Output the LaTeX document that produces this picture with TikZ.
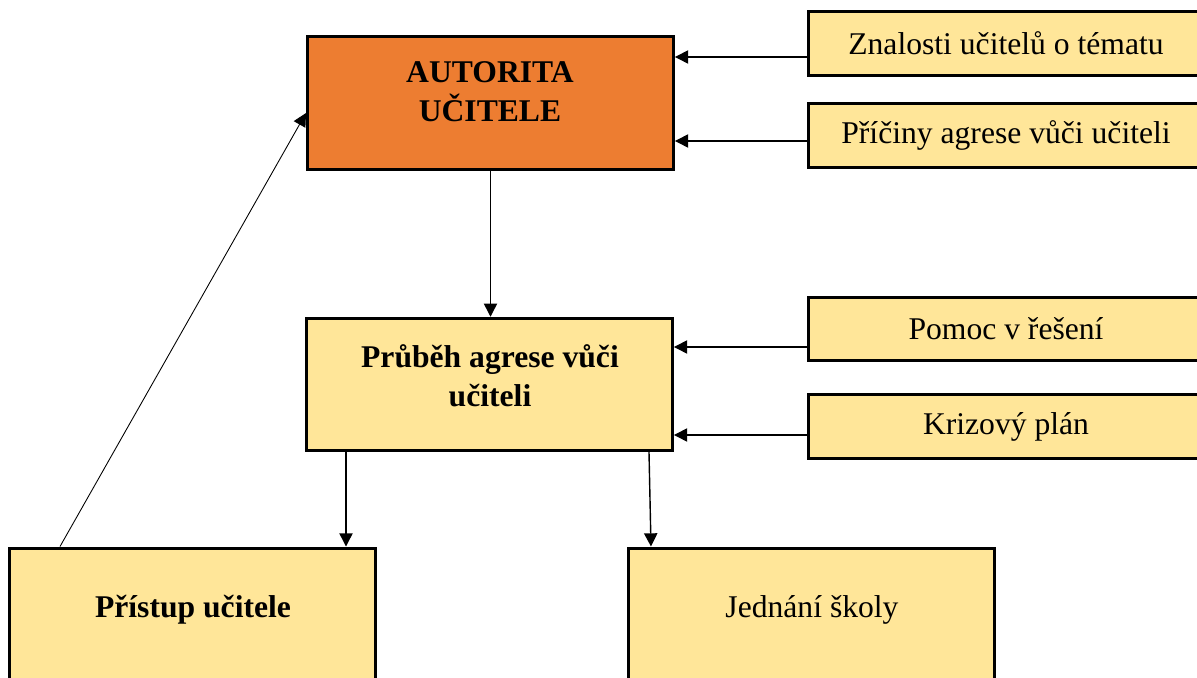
\documentclass[tikz,border=0pt]{standalone}
\usepackage{fontspec}
\setmainfont{Liberation Serif}
\usepackage{tikz}
\usetikzlibrary{shapes, positioning, arrows.meta, calc}
\definecolor{boxorange}{HTML}{ED7D31}
\definecolor{boxyellow}{HTML}{FFE699}
\tikzstyle{box}=[rectangle, draw, line width=1.7pt, fill=boxyellow, inner sep=0pt]
\tikzstyle{bigbox}=[box, minimum width=7.32cm, minimum height=2.65cm]
\tikzstyle{sidebox}=[box, minimum width=7.92cm, minimum height=1.27cm,
  font=\fontsize{18}{22}\selectfont]
\tikzstyle{lowbox}=[box, minimum width=7.32cm, minimum height=3.44cm]
\tikzstyle{boxtext}=[align=center, font=\fontsize{18}{22}\selectfont]
\tikzstyle{arrow}=[-{Triangle[length=7.5pt, width=7.5pt]}, line width=0.8pt]
\tikzstyle{thin}=[-{Triangle[length=7.5pt, width=7.5pt]}, line width=0.5pt]

\begin{document}
\begin{tikzpicture}[x=0.02cm, y=-0.02cm]
      \useasboundingbox (0,0) rectangle (1197,678);
      \clip (0,0) rectangle (1197,678);

      \node[bigbox, fill=boxorange] (autorita) at (490.5,103) {};
      \node[boxtext, font=\fontsize{18}{22}\selectfont\bfseries] (autoritaText) at (490,92) {AUTORITA\\U\v{C}ITELE};
      \node[bigbox] (prubeh) at (489.5,384.5) {};
      \node[boxtext, font=\fontsize{18}{22}\selectfont\bfseries] (prubehText) at (490,376) {Průběh agrese vůči\\učiteli};

      \node[sidebox] (znalosti) at (1006,43.5) {Znalosti učitelů o tématu};
      \node[sidebox] (priciny) at (1006,135.5) {Příčiny agrese vůči učiteli};
      \node[sidebox] (pomoc) at (1006,329) {Pomoc v řešení};
      \node[sidebox] (krizovy) at (1006,426.5) {Krizový plán};

      \node[lowbox] (pristup) at (192.5,634) {};
      \node[boxtext, font=\fontsize{18}{22}\selectfont\bfseries] (pristupText) at (193,610) {Přístup učitele};
      \node[lowbox] (jednani) at (811.5,634) {};
      \node[boxtext] (jednaniText) at (812,610) {Jednání školy};

      \draw[arrow] (znalosti.west |- 0,57) -- (autorita.east |- 0,57);
      \draw[arrow] (priciny.west |- 0,141) -- (autorita.east |- 0,141);
      \draw[arrow] (pomoc.west |- 0,347) -- (prubeh.east |- 0,347);
      \draw[arrow] (krizovy.west |- 0,435) -- (prubeh.east |- 0,435);

      \draw[arrow] (autorita.south) -- (autorita.south |- prubeh.north);
      \draw[arrow] (prubeh.south -| 346,0) -- (pristup.north -| 346,0);
      \draw[arrow] (prubeh.south -| 649,0) -- (jednani.north -| 651,0);
      \draw[thin] (pristup.north -| 60,0) -- (autorita.west |- 0,113);

    \end{tikzpicture}
\end{document}
